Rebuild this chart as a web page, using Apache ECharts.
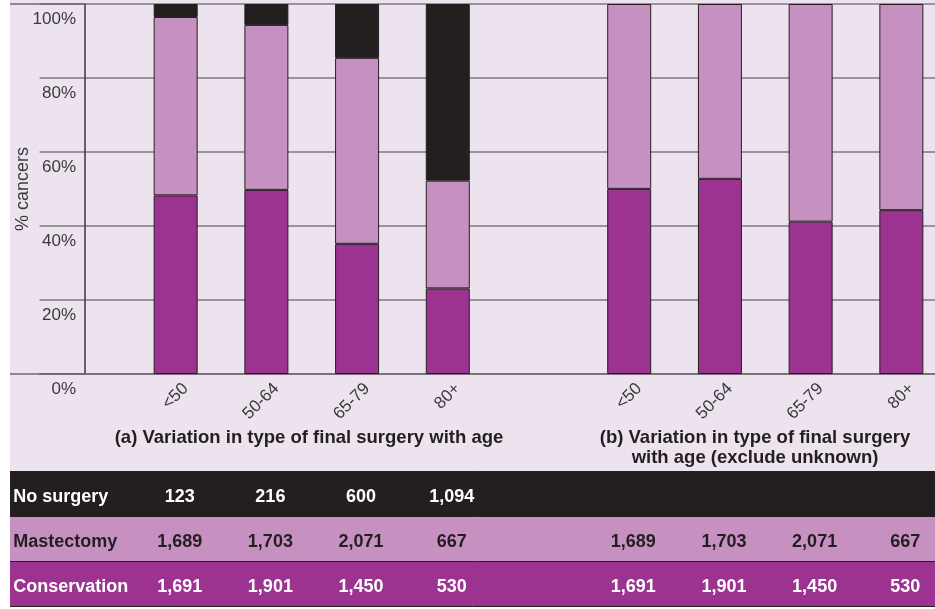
<!DOCTYPE html>
<html><head><meta charset="utf-8">
<script src="https://cdn.jsdelivr.net/npm/echarts@6/dist/echarts.min.js"></script>
<style>html,body{margin:0;padding:0;background:#fff}#c{width:935px;height:609px}</style>
</head><body><div id="c"></div>
<script>
// ---- data ----
const ageGroups = ['<50', '50-64', '65-79', '80+'];
const rowNames = ['No surgery', 'Mastectomy', 'Conservation'];
const noSurgery = [123, 216, 600, 1094];
const mastectomy = [1689, 1703, 2071, 667];
const conservation = [1691, 1901, 1450, 530];
const yAxisName = '% cancers';
const titleA = '(a) Variation in type of final surgery with age';
const titleB = '(b) Variation in type of final surgery\nwith age (exclude unknown)';

// ---- styles ----
const C_DARK = '#231f20', C_LIGHT = '#c690c1', C_PURPLE = '#9d3391', BG = '#ede3ef';
const FONT = 'Liberation Sans';
const TXT = '#3a3a3a';

// ---- derived ----
const slots = [''].concat(ageGroups, [''], ageGroups);
const totA = ageGroups.map((_, i) => noSurgery[i] + mastectomy[i] + conservation[i]);
const totB = ageGroups.map((_, i) => mastectomy[i] + conservation[i]);
const pct = (v, t) => v / t * 100;
const consData = [null].concat(conservation.map((v, i) => pct(v, totA[i])), [null], conservation.map((v, i) => pct(v, totB[i])));
const mastData = [null].concat(mastectomy.map((v, i) => pct(v, totA[i])), [null], mastectomy.map((v, i) => pct(v, totB[i])));
const noneData = [null].concat(noSurgery.map((v, i) => pct(v, totA[i])), [null], ageGroups.map(() => null));
const fmt = v => v.toLocaleString('en-US');
const rowLabels = [
  [''].concat(noSurgery.map(fmt), [''], ageGroups.map(() => '')),
  [''].concat(mastectomy.map(fmt), [''], mastectomy.map(fmt)),
  [''].concat(conservation.map(fmt), [''], conservation.map(fmt))
];
const rowTextColors = ['#ffffff', C_DARK, '#ffffff'];
const rowOffsets = [114, 159.4, 204.4];

const GL = 39.6, GR = -11.7, AXIS_OFF = -(85 - GL);
const LBL_DX = 10;

const rowAxes = rowLabels.map((labels, r) => ({
  type: 'category', gridIndex: 0, position: 'bottom', offset: rowOffsets[r],
  data: labels,
  axisLine: { show: false }, axisTick: { show: false }, splitLine: { show: false },
  axisLabel: { interval: 0, margin: 0, fontFamily: FONT, fontSize: 18, lineHeight: 18,
    fontWeight: 'bold', color: rowTextColors[r], padding: [0, 0, 0, 8] }
}));

const rowRich = {};
rowTextColors.forEach((c, i) => {
  rowRich['r' + i] = { color: c, fontFamily: FONT, fontSize: 18, fontWeight: 'bold', padding: [7, 0, 0, 0] };
});

const barStyle = c => ({ color: c, borderColor: C_DARK, borderWidth: 1 });

const option = {
  backgroundColor: '#ffffff',
  animation: false,
  graphic: [{ type: 'rect', silent: true, z: -100,
    shape: { x: 10, y: 0, width: 925, height: 472 }, style: { fill: BG } }],
  title: [
    { text: titleA, left: 309, top: 427.7, textAlign: 'center', padding: 0,
      textStyle: { fontFamily: FONT, fontSize: 18.5, fontWeight: 'bold', color: C_DARK, lineHeight: 20.6 } },
    { text: titleB, left: 755, top: 427.4, textAlign: 'center', padding: 0,
      textStyle: { fontFamily: FONT, fontSize: 18.5, fontWeight: 'bold', color: C_DARK, lineHeight: 20.6 } }
  ],
  grid: [
    { left: GL, right: GR, top: 4, bottom: 235, containLabel: false, outerBoundsMode: 'none' },
    { left: 10, right: 0, top: 471.5, height: 135, containLabel: false, outerBoundsMode: 'none' },
    { left: GL + LBL_DX, right: GR - LBL_DX, top: 4, bottom: 235, containLabel: false, outerBoundsMode: 'none' }
  ],
  xAxis: [
    { type: 'category', gridIndex: 0, data: slots,
      axisTick: { show: false }, splitLine: { show: false },
      axisLine: { show: true, lineStyle: { color: '#6e6a70', width: 1.5 } },
      axisLabel: { show: false } }
  ].concat(rowAxes, [
    { type: 'value', gridIndex: 1, show: false, min: 0, max: 1 },
    { type: 'category', gridIndex: 2, data: slots,
      axisTick: { show: false }, splitLine: { show: false }, axisLine: { show: false },
      axisLabel: { interval: 0, rotate: 45, margin: 12, fontFamily: FONT, fontSize: 17, color: TXT } }
  ]),
  yAxis: [
    { type: 'value', gridIndex: 0, position: 'left', offset: AXIS_OFF, min: 0, max: 100, interval: 20,
      axisLine: { show: true, lineStyle: { color: '#3a3a3a', width: 1.5 } },
      axisTick: { show: false },
      splitLine: { show: true, lineStyle: { color: '#7d797f', width: 1.5 } },
      axisLabel: { formatter: '{value}%', margin: 9, verticalAlign: 'top', padding: [7, 0, 0, 0],
        lineHeight: 17, fontFamily: FONT, fontSize: 17, color: TXT },
      name: yAxisName, nameLocation: 'middle', nameGap: 52.5, nameMoveOverlap: false,
      nameTextStyle: { fontFamily: FONT, fontSize: 18, color: TXT } },
    { type: 'value', gridIndex: 0, position: 'left', offset: AXIS_OFF, min: 0, max: 100, interval: 100,
      axisLine: { show: false }, axisLabel: { show: false }, splitLine: { show: false },
      axisTick: { show: true, length: 75, lineStyle: { color: '#6e6a70', width: 1.5 } } },
    { type: 'category', gridIndex: 1, inverse: true, data: rowNames,
      axisLine: { show: false }, axisTick: { show: false },
      axisLabel: { inside: true, margin: 3.3,
        formatter: (v) => '{r' + rowNames.indexOf(v) + '|' + v + '}', rich: rowRich },
      splitArea: { show: true, areaStyle: { color: [C_DARK, C_LIGHT, C_PURPLE] } },
      splitLine: { show: true, lineStyle: { color: '#231f20', width: 1 } } },
    { type: 'value', gridIndex: 2, show: false, min: 0, max: 100 }
  ],
  series: [
    { type: 'bar', name: rowNames[2], stack: 's', barWidth: 44, data: consData, itemStyle: barStyle(C_PURPLE) },
    { type: 'bar', name: rowNames[1], stack: 's', barWidth: 44, data: mastData, itemStyle: barStyle(C_LIGHT) },
    { type: 'bar', name: rowNames[0], stack: 's', barWidth: 44, data: noneData, itemStyle: barStyle(C_DARK) }
  ]
};
const chart = echarts.init(document.getElementById('c'), null, { renderer: 'canvas' });
chart.setOption(option);
</script></body></html>
